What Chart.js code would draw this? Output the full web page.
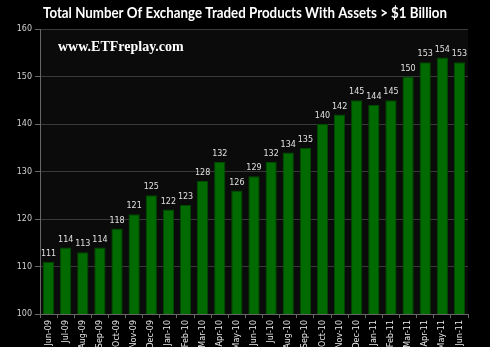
<!DOCTYPE html>
<html>
<head>
<meta charset="utf-8">
<script src="https://cdn.jsdelivr.net/npm/chart.js@4"></script>
<style>
  html, body { margin: 0; padding: 0; background: #000; }
  #wrap { width: 490px; height: 347px; }
</style>
</head>
<body>
<div id="wrap"><canvas id="etp-chart" width="490" height="347"></canvas></div>
<script>
const months = [
  "Jun-09", "Jul-09", "Aug-09", "Sep-09", "Oct-09", "Nov-09", "Dec-09",
  "Jan-10", "Feb-10", "Mar-10", "Apr-10", "May-10", "Jun-10", "Jul-10",
  "Aug-10", "Sep-10", "Oct-10", "Nov-10", "Dec-10", "Jan-11", "Feb-11",
  "Mar-11", "Apr-11", "May-11", "Jun-11"
];
const productCount = [
  111, 114, 113, 114, 118, 121, 125, 122, 123, 128, 132, 126, 129, 132,
  134, 135, 140, 142, 145, 144, 145, 150, 153, 154, 153
];
const yTicks = [100, 110, 120, 130, 140, 150, 160];

const titleText = "Total Number Of Exchange Traded Products With Assets > $1 Billion";
const watermark = "www.ETFreplay.com";

// plot background, title, watermark and value labels
const decor = {
  id: "decor",
  beforeDraw(chart) {
    const { ctx, chartArea: a } = chart;
    ctx.save();
    ctx.fillStyle = "#000";
    ctx.fillRect(0, 0, chart.width, chart.height);
    ctx.fillStyle = "#0b0b0b";
    ctx.fillRect(a.left, a.top, a.right - a.left, a.bottom - a.top);
    ctx.restore();
  },
  afterDatasetsDraw(chart) {
    const { ctx, chartArea: a } = chart;
    ctx.save();
    ctx.fillStyle = "#fff";
    ctx.textAlign = "center";
    ctx.textBaseline = "middle";
    ctx.font = "bold 15px Lato, 'Open Sans', sans-serif";
    ctx.fillText(titleText, 245, 13, 404);

    ctx.textAlign = "left";
    ctx.font = "bold 14px 'Liberation Serif', serif";
    ctx.fillText(watermark, a.left + 18, a.top + 18);

    ctx.fillStyle = "#e0e0e0";
    ctx.textAlign = "center";
    ctx.textBaseline = "bottom";
    ctx.font = "8px 'DejaVu Sans', sans-serif";
    const meta = chart.getDatasetMeta(0);
    meta.data.forEach((bar, i) => {
      ctx.fillText(productCount[i], bar.x, bar.y - 4);
    });
    ctx.restore();
  }
};

new Chart("etp-chart", {
  type: "bar",
  data: {
    labels: months,
    datasets: [{
      data: productCount,
      backgroundColor: "#016b01",
      borderColor: "#004a00",
      borderWidth: 1,
      barPercentage: 0.66,
      categoryPercentage: 1.0
    }]
  },
  options: {
    responsive: false,
    animation: false,
    layout: {
      padding: { top: 29, right: 22, left: 0, bottom: 0 }
    },
    plugins: {
      legend: { display: false },
      tooltip: { enabled: false }
    },
    scales: {
      x: {
        offset: true,
        grid: {
          offset: true,
          drawOnChartArea: false,
          color: "#666",
          tickLength: 4
        },
        border: { color: "#666" },
        ticks: {
          color: "#e8e8e8",
          font: { size: 8, family: "'DejaVu Sans', sans-serif" },
          minRotation: 90,
          maxRotation: 90,
          autoSkip: false,
          padding: 2
        },
        afterFit(scale) { scale.height = 33; }
      },
      y: {
        min: 100,
        max: 160,
        afterBuildTicks(scale) {
          scale.ticks = yTicks.map(v => ({ value: v }));
        },
        grid: {
          color: "#3a3a3a",
          tickLength: 5,
          tickColor: "#666"
        },
        border: { color: "#666" },
        ticks: {
          color: "#d0d0d0",
          font: { size: 8, family: "'DejaVu Sans', sans-serif" },
          padding: 3
        },
        afterFit(scale) { scale.width = 40; }
      }
    }
  },
  plugins: [decor]
});
</script>
</body>
</html>
